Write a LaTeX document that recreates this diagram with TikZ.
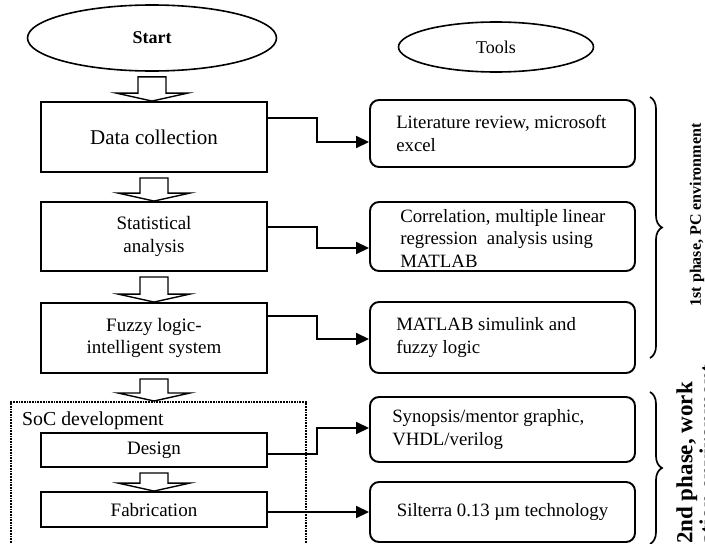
\documentclass[tikz,border=0pt]{standalone}
\usepackage{fontspec}
\setmainfont{Liberation Serif}
\usetikzlibrary{shapes.geometric, arrows.meta, calc, decorations.pathreplacing}

\newcommand{\flowarrow}[2]{%
  \path (#1.south) ++(0,5) coordinate (fa-top) (#2.north -| #1.south) coordinate (fa-tip);
  \draw[hollowarrow] ($(fa-top)+(-14,0)$) -- ($(fa-tip)+(-14,-8)$) -- ($(fa-tip)+(-36,-8)$)
    -- (fa-tip) -- ($(fa-tip)+(36,-8)$) -- ($(fa-tip)+(14,-8)$) -- ($(fa-top)+(14,0)$) -- cycle;
}

\begin{document}
\begin{tikzpicture}[x=1pt, y=-1pt,
    oval/.style={draw, ellipse, line width=1.6pt, inner sep=0pt, font=\fontsize{18}{21}\selectfont},
    stepbox/.style={draw, rectangle, line width=1.9pt, minimum width=226, align=center, inner sep=0pt,
      font=\fontsize{19}{22.5}\selectfont},
    toolbox/.style={draw, rectangle, rounded corners=9pt, line width=1.9pt, minimum width=265,
      inner sep=0pt, align=center, font=\fontsize{18.8}{22.5}\selectfont},
    tooltext/.style={anchor=west, align=left, inner sep=0pt, font=\fontsize{18.8}{22.5}\selectfont},
    hollowarrow/.style={draw, fill=white, line width=1.4pt, line join=miter},
    link/.style={line width=1.7pt, -{Triangle[length=13pt, width=12pt]}},
    brace/.style={line width=1.7pt, decorate, decoration={brace, amplitude=12pt}},
    phase/.style={rotate=90, font=\bfseries\fontsize{16}{19}\selectfont}]
  \useasboundingbox (0,0) rectangle (705,544);
  \clip (0,0) rectangle (705,544);

  \node[oval, minimum width=249, minimum height=66, font=\bfseries\fontsize{18}{21}\selectfont] (start) at (152,38) {Start};
  \node[oval, minimum width=195, minimum height=50] (tools) at (496,47) {Tools};

  \node[stepbox, minimum height=70, font=\fontsize{21}{24}\selectfont] (data) at (154,137) {Data collection};
  \node[stepbox, minimum height=69] (stat) at (154,236.5) {Statistical\\analysis};
  \node[stepbox, minimum height=70] (fuzzy) at (154,338) {Fuzzy logic-\\intelligent system};

  \node[draw, densely dotted, line width=1.7pt, minimum width=295, minimum height=170, anchor=north west,
    inner sep=0pt] (soc) at (10,401) {};
  \node[anchor=base west, font=\fontsize{19.8}{22}\selectfont, inner sep=0pt] (soclabel) at (22,425) {SoC development};
  \node[stepbox, minimum height=34] (design) at (154,450) {Design};
  \node[stepbox, minimum height=35] (fab) at (154,509.5) {Fabrication};

  \node[toolbox, minimum height=67] (lit) at (502.5,133.5) {};
  \node[tooltext] (littext) at ([xshift=27pt]lit.west) {Literature review, microsoft\\excel};
  \node[toolbox, minimum height=69] (corr) at (502.5,236.5) {};
  \node[tooltext] (corrtext) at ([xshift=31pt, yshift=-2pt]corr.west) {Correlation, multiple linear\\regression\ \ analysis using\\MATLAB};
  \node[toolbox, minimum height=71] (sim) at (502.5,337.5) {};
  \node[tooltext] (simtext) at ([xshift=27pt]sim.west) {MATLAB simulink and\\fuzzy logic};
  \node[toolbox, minimum height=65] (syn) at (502.5,429.5) {};
  \node[tooltext] (syntext) at ([xshift=23pt]syn.west) {Synopsis/mentor graphic,\\VHDL/verilog};
  \node[toolbox, minimum height=60] (sil) at (502.5,512) {Silterra 0.13 µm technology};

  \flowarrow{start}{data}
  \flowarrow{data}{stat}
  \flowarrow{stat}{fuzzy}
  \flowarrow{fuzzy}{soc}
  \flowarrow{design}{fab}

  \draw[link] ([yshift=19pt]data.east) -- ++(49,0) |- ([yshift=-8.5pt]lit.west);
  \draw[link] ([yshift=9.5pt]stat.east) -- ++(49,0) |- ([yshift=-11.5pt]corr.west);
  \draw[link] ([yshift=22pt]fuzzy.east) -- ++(49,0) |- ([yshift=-1.5pt]sim.west);
  \draw[link] ([yshift=-4pt]design.east) -- ++(49,0) |- ([yshift=1.5pt]syn.west);
  \draw[link] (fab.east |- sil.west) -- (sil.west);

  \draw[brace] (650,97) -- (650,358);
  \draw[brace] (650,392) -- (650,544);
  \node[phase] (phase1) at (697,215) {1st phase, PC environment};
  \node[phase, align=center, font=\bfseries\fontsize{23}{23}\selectfont] (phase2) at (696,463) {2nd phase, work\\station environment};
\end{tikzpicture}
\end{document}
